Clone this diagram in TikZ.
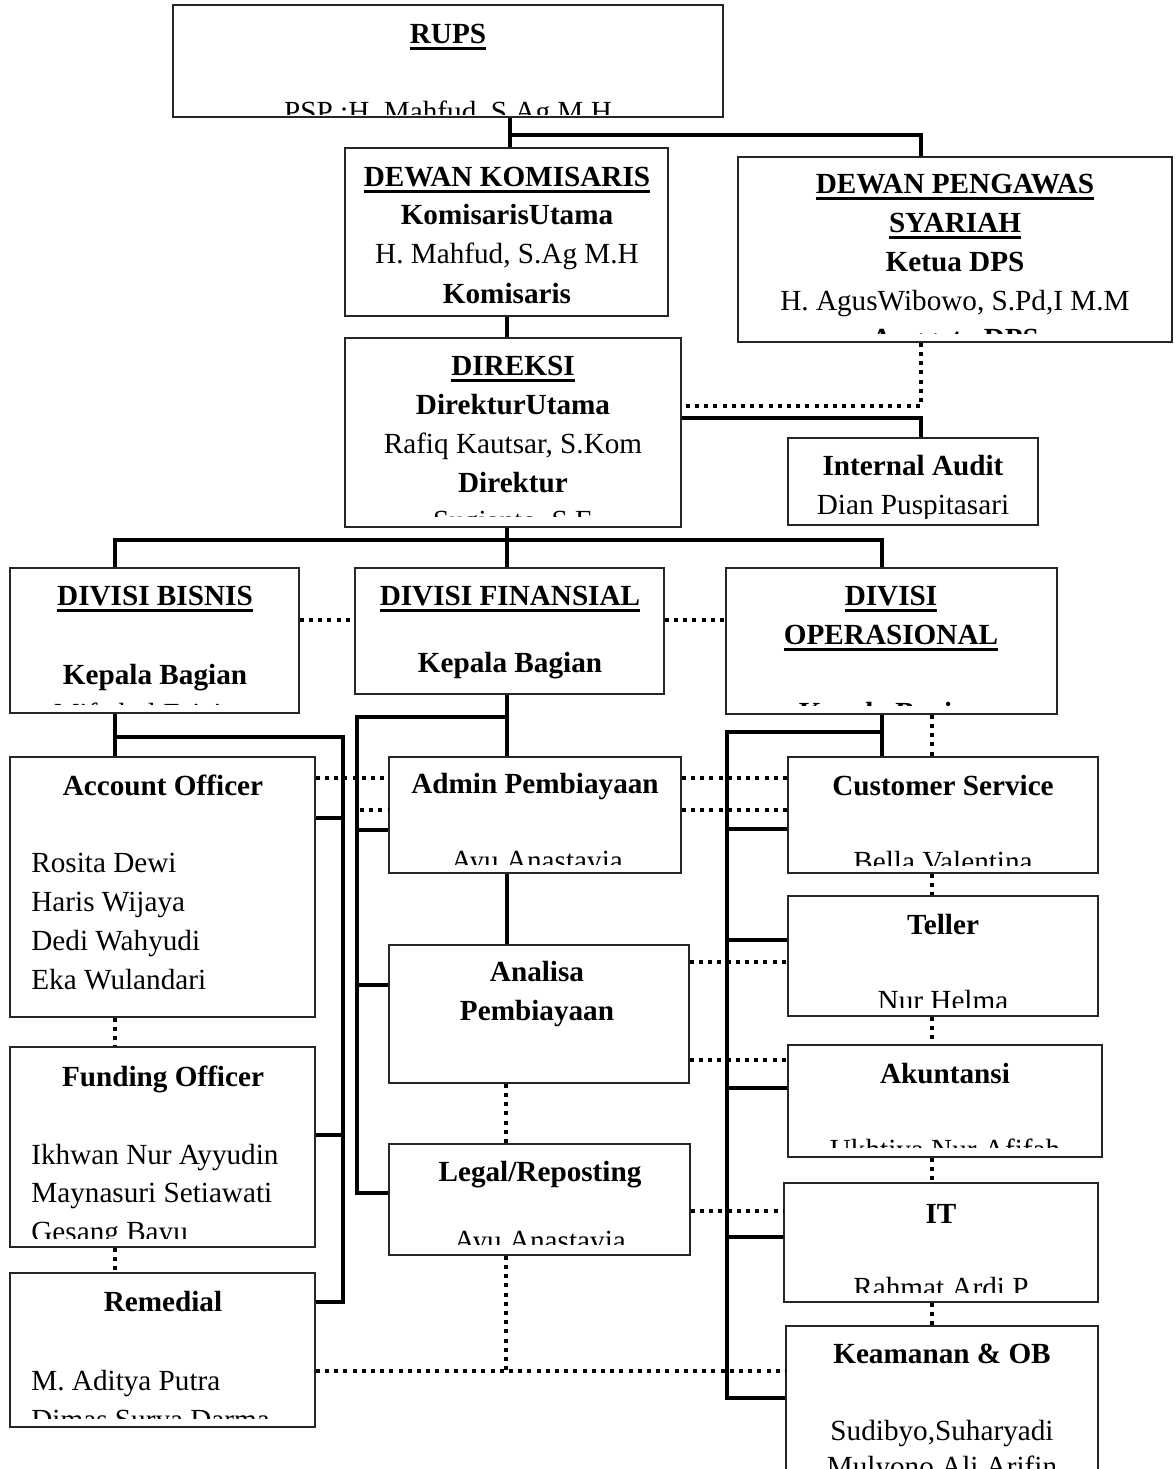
\documentclass[tikz,border=0pt]{standalone}
\usepackage{fontspec}
\setmainfont{Liberation Serif}
\usetikzlibrary{fit,calc}
\newcommand\uln[1]{\leavevmode\setbox0\hbox{#1}\rlap{\rule[-3.3pt]{\wd0}{1.3pt}}\box0}
\tikzset{
 box/.style={draw=black!85, line width=0.75pt, fill=white, inner sep=0pt},
 conn/.style={line width=2pt},
 dotl/.style={line width=2pt, dash pattern=on 2pt off 2.6pt},
 tx/.style={anchor=base, inner sep=0pt, font=\fontsize{14.6}{17}\selectfont},
 tb/.style={anchor=base, inner sep=0pt, font=\fontsize{14.6}{17}\selectfont\bfseries},
 tl/.style={anchor=base west, inner sep=0pt, font=\fontsize{14.6}{17}\selectfont},
}
\begin{document}
\begin{tikzpicture}[x=0.5pt,y=-0.5pt]
\useasboundingbox (0,0) rectangle (1175,1469);
\clip (0,0) rectangle (1175,1469);

% ---------- boxes ----------
\node[box, fit={(173,5) (723,117)}] (rups) {};
\begin{scope}\clip (173,5) rectangle (723,114);
\node[tb] (rupsA) at (448,43) {\uln{RUPS}};
\node[tx] (rupsB) at (448,121) {PSP :H. Mahfud, S.Ag M.H};
\end{scope}

\node[box, fit={(345,148) (668,316)}] (dk) {};
\begin{scope}\clip (345,148) rectangle (668,308);
\node[tb] (dkA) at (507,186) {\uln{DEWAN KOMISARIS}};
\node[tb] (dkB) at (507,224) {KomisarisUtama};
\node[tx] (dkC) at (507,263) {H. Mahfud, S.Ag M.H};
\node[tb] (dkD) at (507,303) {Komisaris};
\end{scope}

\node[box, fit={(738,157) (1172,342)}] (dps) {};
\begin{scope}\clip (738,157) rectangle (1172,333);
\node[tb] (dpsA) at (955,193) {\uln{DEWAN PENGAWAS}};
\node[tb] (dpsB) at (955,232) {\uln{SYARIAH}};
\node[tb] (dpsC) at (955,271) {Ketua DPS};
\node[tx] (dpsD) at (955,310) {H. AgusWibowo, S.Pd,I M.M};
\node[tb] (dpsE) at (955,348) {Anggota DPS};
\end{scope}

\node[box, fit={(345,338) (681,527)}] (dir) {};
\begin{scope}\clip (345,338) rectangle (681,516);
\node[tb] (dirA) at (513,375) {\uln{DIREKSI}};
\node[tb] (dirB) at (513,414) {DirekturUtama};
\node[tx] (dirC) at (513,453) {Rafiq Kautsar, S.Kom};
\node[tb] (dirD) at (513,492) {Direktur};
\node[tx] (dirE) at (513,530) {Sugianto, S.E};
\end{scope}

\node[box, fit={(788,438) (1038,525)}] (ia) {};
\begin{scope}\clip (788,438) rectangle (1038,518);
\node[tb] (iaA) at (913,475) {Internal Audit};
\node[tx] (iaB) at (913,514) {Dian Puspitasari};
\end{scope}

\node[box, fit={(10,568) (299,713)}] (bis) {};
\begin{scope}\clip (10,568) rectangle (299,704);
\node[tb] (bisA) at (155,605) {\uln{DIVISI BISNIS}};
\node[tb] (bisB) at (155,684) {Kepala Bagian};
\node[tx] (bisC) at (145,723) {Miftahul Faizin};
\end{scope}

\node[box, fit={(355,568) (664,694)}] (fin) {};
\node[tb] (finA) at (510,605) {\uln{DIVISI FINANSIAL}};
\node[tb] (finB) at (510,672) {Kepala Bagian};

\node[box, fit={(726,568) (1057,714)}] (ops) {};
\begin{scope}\clip (726,568) rectangle (1057,705);
\node[tb] (opsA) at (891,605) {\uln{DIVISI}};
\node[tb] (opsB) at (891,644) {\uln{OPERASIONAL}};
\node[tb] (opsC) at (891,722) {Kepala Bagian};
\end{scope}

\node[box, fit={(10,757) (315,1017)}] (ao) {};
\node[tb] (aoA) at (163,795) {Account Officer};
\node[tl] (aoB) at (31,872) {Rosita Dewi};
\node[tl] (aoC) at (31,911) {Haris Wijaya};
\node[tl] (aoD) at (31,950) {Dedi Wahyudi};
\node[tl] (aoE) at (31,989) {Eka Wulandari};

\node[box, fit={(10,1047) (315,1247)}] (fo) {};
\begin{scope}\clip (10,1047) rectangle (315,1238);
\node[tb] (foA) at (163,1086) {Funding Officer};
\node[tl] (foB) at (31,1164) {Ikhwan Nur Ayyudin};
\node[tl] (foC) at (31,1202) {Maynasuri Setiawati};
\node[tl] (foD) at (31,1241) {Gesang Bayu};
\end{scope}

\node[box, fit={(10,1273) (315,1427)}] (rem) {};
\begin{scope}\clip (10,1273) rectangle (315,1418);
\node[tb] (remA) at (163,1311) {Remedial};
\node[tl] (remB) at (31,1390) {M. Aditya Putra};
\node[tl] (remC) at (31,1429) {Dimas Surya Darma};
\end{scope}

\node[box, fit={(389,757) (681,873)}] (adm) {};
\begin{scope}\clip (389,757) rectangle (681,864);
\node[tb] (admA) at (535,793) {Admin Pembiayaan};
\node[tx] (admB) at (537,870) {Ayu Anastavia};
\end{scope}

\node[box, fit={(389,945) (689,1083)}] (ana) {};
\node[tb] (anaA) at (537,981) {Analisa};
\node[tb] (anaB) at (537,1020) {Pembiayaan};

\node[box, fit={(389,1144) (690,1255)}] (leg) {};
\begin{scope}\clip (389,1144) rectangle (690,1244);
\node[tb] (legA) at (540,1181) {Legal/Reposting};
\node[tx] (legB) at (540,1250) {Ayu Anastavia};
\end{scope}

\node[box, fit={(788,757) (1098,873)}] (cs) {};
\begin{scope}\clip (788,757) rectangle (1098,865);
\node[tb] (csA) at (943,795) {Customer Service};
\node[tx] (csB) at (943,871) {Bella Valentina};
\end{scope}

\node[box, fit={(788,896) (1098,1016)}] (tel) {};
\begin{scope}\clip (788,896) rectangle (1098,1007);
\node[tb] (telA) at (943,934) {Teller};
\node[tx] (telB) at (943,1010) {Nur Helma};
\end{scope}

\node[box, fit={(788,1045) (1102,1157)}] (aku) {};
\begin{scope}\clip (788,1045) rectangle (1102,1147);
\node[tb] (akuA) at (945,1083) {Akuntansi};
\node[tx] (akuB) at (945,1159) {Ukhtiya Nur Afifah};
\end{scope}

\node[box, fit={(784,1183) (1098,1302)}] (it) {};
\begin{scope}\clip (784,1183) rectangle (1098,1292);
\node[tb] (itA) at (941,1223) {IT};
\node[tx] (itB) at (941,1297) {Rahmat Ardi P};
\end{scope}

\node[box, fit={(786,1326) (1098,1530)}] (kea) {};
\node[tb] (keaA) at (942,1363) {Keamanan \& OB};
\node[tx] (keaB) at (942,1440) {Sudibyo,Suharyadi};
\node[tx] (keaC) at (942,1476) {Mulyono Ali Arifin};

% ---------- connectors ----------
\coordinate (j1) at (510,135);
\coordinate (j2) at (921,135);
\draw[conn] (j1 |- rups.south) -- (j1 |- dk.north);
\draw[conn] (j1) -- (j2) -- (j2 |- dps.north);
\draw[conn] (dk.south) -- (dk.south |- dir.north);
\coordinate (j3) at (921,406);
\draw[dotl] (j3 |- dps.south) -- (j3) -- (j3 -| dir.east);
\coordinate (j4) at (921,418);
\draw[conn] (j4 -| dir.east) -- (j4) -- (j4 |- ia.north);

\coordinate (j5) at (507,540);
\coordinate (j6) at (115,540);
\coordinate (j7) at (882,540);
\draw[conn] (j5 |- dir.south) -- (j5 |- fin.north);
\draw[conn] (j6 |- bis.north) -- (j6) -- (j7) -- (j7 |- ops.north);
\coordinate (j8) at (0,620);
\draw[dotl] (j8 -| bis.east) -- (j8 -| fin.west);
\draw[dotl] (j8 -| fin.east) -- (j8 -| ops.west);

% left column
\coordinate (l0) at (115,737);
\coordinate (l1) at (343,737);
\coordinate (l2) at (343,818);
\coordinate (l3) at (343,1135);
\coordinate (l4) at (343,1302);
\draw[conn] (l0 |- bis.south) -- (l0 |- ao.north);
\draw[conn] (l0) -- (l1) -- (l4) -- (l4 -| rem.east);
\draw[conn] (l2) -- (l2 -| ao.east);
\draw[conn] (l3) -- (l3 -| fo.east);
\draw[dotl] (l0 |- ao.south) -- (l0 |- fo.north);
\draw[dotl] (l0 |- fo.south) -- (l0 |- rem.north);

% middle column
\coordinate (m0) at (507,717);
\coordinate (m1) at (357,717);
\coordinate (m2) at (357,830);
\coordinate (m3) at (357,985);
\coordinate (m4) at (357,1193);
\draw[conn] (m0 |- fin.south) -- (m0 |- adm.north);
\draw[conn] (m0) -- (m1) -- (m4) -- (m4 -| leg.west);
\draw[conn] (m2) -- (m2 -| adm.west);
\draw[conn] (m3) -- (m3 -| ana.west);
\draw[conn] (m0 |- adm.south) -- (m0 |- ana.north);
\coordinate (m5) at (506,1371);
\draw[dotl] (m5 |- ana.south) -- (m5 |- leg.north);
\draw[dotl] (m5 |- leg.south) -- (m5);
\draw[dotl] (m5 -| rem.east) -- (m5 -| kea.west);

% right column
\coordinate (r0) at (882,732);
\coordinate (r1) at (727,732);
\coordinate (r2) at (727,829);
\coordinate (r3) at (727,940);
\coordinate (r4) at (727,1088);
\coordinate (r5) at (727,1237);
\coordinate (r6) at (727,1398);
\draw[conn] (r0 |- ops.south) -- (r0 |- cs.north);
\draw[conn] (r0) -- (r1) -- (r6) -- (r6 -| kea.west);
\draw[conn] (r2) -- (r2 -| cs.west);
\draw[conn] (r3) -- (r3 -| tel.west);
\draw[conn] (r4) -- (r4 -| aku.west);
\draw[conn] (r5) -- (r5 -| it.west);
\coordinate (rd) at (932,0);
\draw[dotl] (rd |- ops.south) -- (rd |- cs.north);
\draw[dotl] (rd |- cs.south) -- (rd |- tel.north);
\draw[dotl] (rd |- tel.south) -- (rd |- aku.north);
\draw[dotl] (rd |- aku.south) -- (rd |- it.north);
\draw[dotl] (rd |- it.south) -- (rd |- kea.north);

% cross dotted links
\coordinate (c1) at (0,778);
\coordinate (c2) at (360,810);
\draw[dotl] (c1 -| ao.east) -- (c1 -| adm.west);
\draw[dotl] (c1 -| adm.east) -- (c1 -| cs.west);
\draw[dotl] (c2) -- (c2 -| adm.west);
\draw[dotl] (c2 -| adm.east) -- (c2 -| cs.west);
\coordinate (c3) at (0,962);
\coordinate (c4) at (0,1060);
\coordinate (c5) at (0,1211);
\draw[dotl] (c3 -| ana.east) -- (c3 -| tel.west);
\draw[dotl] (c4 -| ana.east) -- (c4 -| aku.west);
\draw[dotl] (c5 -| leg.east) -- (c5 -| it.west);
\end{tikzpicture}
\end{document}
